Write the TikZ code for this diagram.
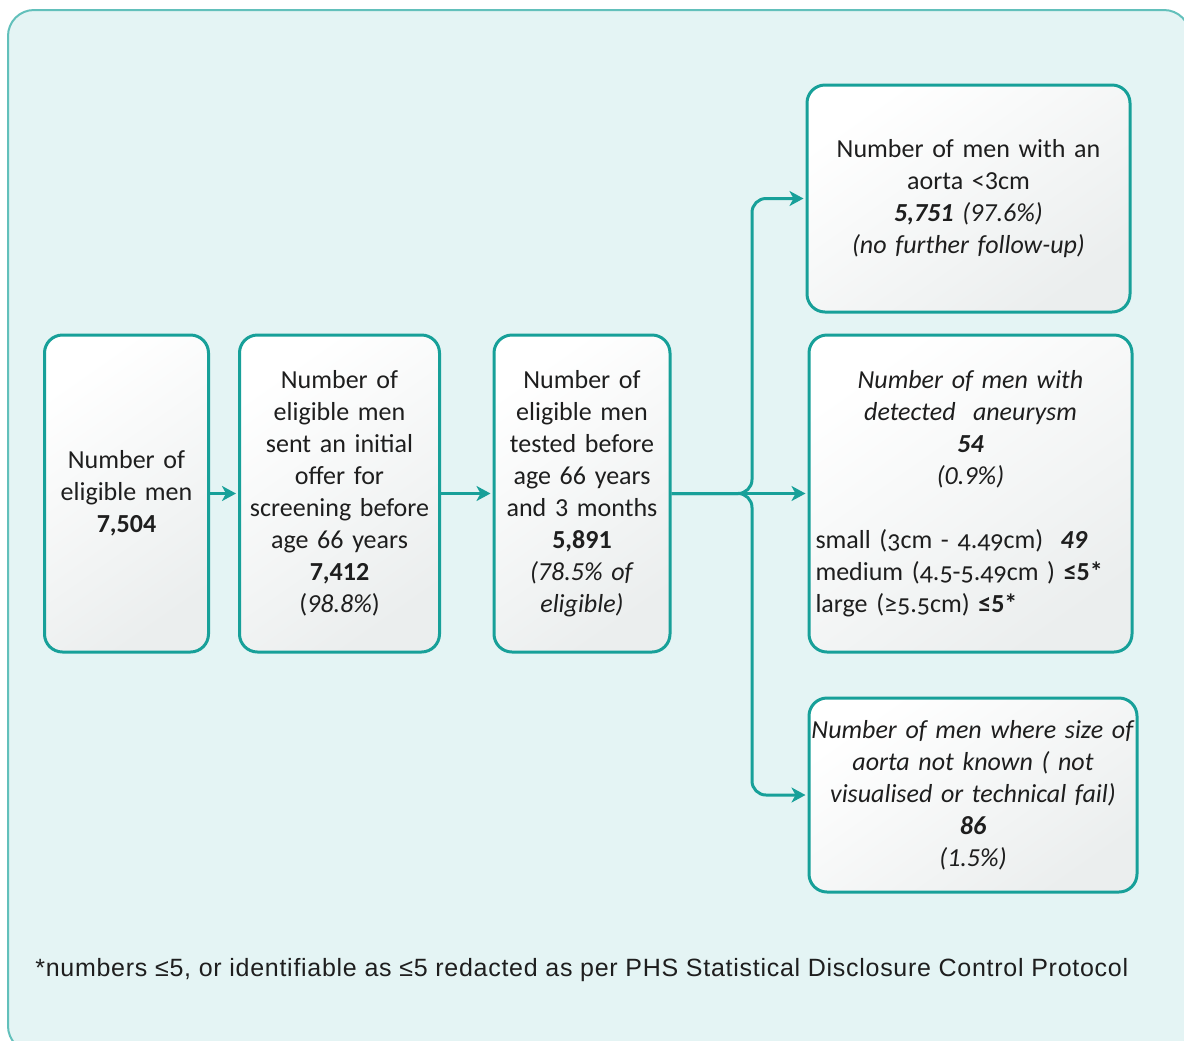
\documentclass[tikz,border=0pt]{standalone}
\usepackage{fontspec}
\setmainfont{Carlito}
\newfontfamily\notefont[LetterSpace=2.9]{Liberation Sans}
\usetikzlibrary{arrows.meta}

\definecolor{frameline}{HTML}{62C0BB}
\definecolor{framefill}{HTML}{E4F4F4}
\definecolor{boxline}{HTML}{17A099}
\definecolor{boxshade}{HTML}{EBEEEE}
\definecolor{ink}{HTML}{1E1E1E}

\tikzset{
  box/.style={draw=boxline, line width=1.5pt, rounded corners=9pt,
    top color=white, bottom color=boxshade, shading angle=35,
    align=center, text=ink, inner sep=3pt,
    font=\fontsize{13}{16}\selectfont},
  conn/.style={draw=boxline, line width=1.5pt,
    -{Stealth[length=7pt,width=7.5pt,inset=2pt]}, shorten >=1pt},
  branch/.style={conn, rounded corners=7pt},
}

\begin{document}
\begin{tikzpicture}[x=0.5pt, y=-0.5pt]
  \clip (0,0) rectangle (1184,1040);
  % outer panel
  \draw[draw=frameline, fill=framefill, line width=1pt, rounded corners=13pt]
    (8,10) rectangle (1190,1052);

  % main chain
  \node[box, minimum width=81.5pt, minimum height=158.5pt, text width=76pt] (b1) at (126.5,493.5)
    {Number of\\eligible men\\\textbf{7,504}};
  \node[box, minimum width=98.5pt, minimum height=158.5pt, text width=94pt] (b2) at (339.5,493.5)
    {Number of\\eligible men\\sent an initial\\offer for\\screening before\\age 66 years\\\textbf{7,412}\\(\textit{98.8\%})};
  \node[box, minimum width=87pt, minimum height=158.5pt, text width=82pt] (b3) at (582,493.5)
    {Number of\\eligible men\\tested before\\age 66 years\\and 3 months\\\textbf{5,891}\\\textit{(78.5\% of}\\\textit{eligible)}};

  % outcomes
  \node[box, minimum width=161.5pt, minimum height=113.5pt, text width=155pt] (b4) at (968.5,198.5)
    {Number of men with an\\aorta <3cm\\\textbf{\textit{5,751}} \textit{(97.6\%)}\\\textit{(no further follow-up)}};
  \node[box, minimum width=161.5pt, minimum height=158.5pt, text width=155pt, inner xsep=3pt] (b5) at (970.5,493.5)
    {\textit{Number of men with}\\\textit{detected\ \ aneurysm}\\\textbf{\textit{54}}\\\textit{(0.9\%)}\par
     \vspace{16pt}\raggedright
     small {\addfontfeatures{Numbers=OldStyle}(3cm - 4.49cm)}\ \ \textbf{\textit{49}}\\
     medium {\addfontfeatures{Numbers=OldStyle}(4.5-5.49cm )} \textbf{≤5*}\\
     large {\addfontfeatures{Numbers=OldStyle}(≥5.5cm)} \textbf{≤5*}\par};
  \node[box, minimum width=164pt, minimum height=97pt, text width=158pt] (b6) at (973,795)
    {\makebox[\linewidth][c]{\textit{Number of men where size of}}\\\textit{aorta not known ( not}\\\textit{visualised or technical fail)}\\\textbf{\textit{86}}\\\textit{(1.5\%)}};

  % connectors
  \coordinate (split) at (752,493.5);
  \draw[conn] (b1) -- (b2);
  \draw[conn] (b2) -- (b3);
  \draw[conn] (b3) -- (b5);
  \draw[branch] (b3.east) -- (split) |- (b4.west);
  \draw[branch] (b3.east) -- (split) |- (b6.west);

  % footnote
  \node[anchor=base west, inner sep=0pt, text=ink, font=\notefont\fontsize{12.5}{14}\selectfont] (note) at (35,976)
    {*numbers ≤5, or identifiable as ≤5 redacted as per PHS Statistical Disclosure Control Protocol};
\end{tikzpicture}
\end{document}
